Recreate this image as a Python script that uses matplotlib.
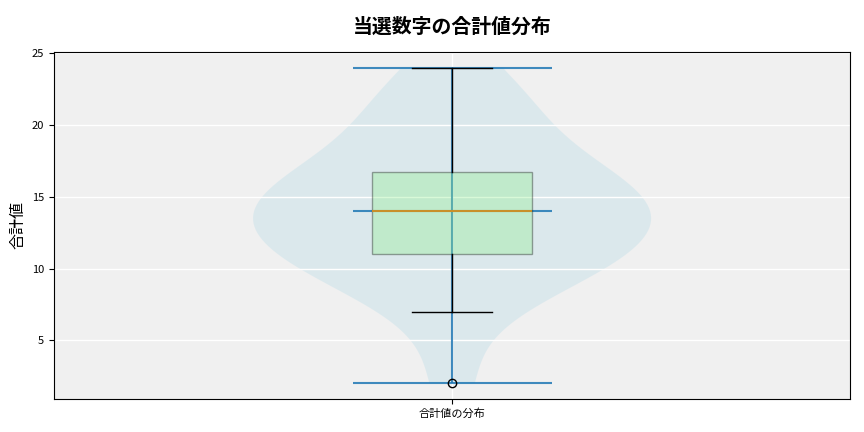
import matplotlib
matplotlib.use("Agg")
import matplotlib.pyplot as plt
import numpy as np

plt.rcParams['font.family'] = ['Noto Sans CJK JP', 'DejaVu Sans']

sums = [2, 7, 9, 10, 10, 11, 11, 12, 13, 13, 14, 14,
        15, 15, 16, 16, 17, 18, 20, 21, 22, 24]
category_label = "合計値の分布"
title = "当選数字の合計値分布"
ylabel = "合計値"

fig = plt.figure(figsize=(8.64, 4.32), dpi=100)
ax = fig.add_axes([0.0625, 0.0764, 0.9215, 0.8033])
ax.set_facecolor('#f0f0f0')
ax.grid(True, color='white', linewidth=1.0)

data = np.array(sums, dtype=float)

vp = ax.violinplot([data], positions=[1], showmeans=False, showmedians=True,
                   showextrema=True)
for body in vp['bodies']:
    body.set_facecolor('lightblue')
    body.set_edgecolor('none')
    body.set_alpha(0.3)
for key in ('cbars', 'cmins', 'cmaxes', 'cmedians'):
    vp[key].set_alpha(0.85)

bp = ax.boxplot([data], positions=[1], widths=0.2, patch_artist=True,
                boxprops=dict(facecolor='lightgreen', alpha=0.35),
                medianprops=dict(color='#c8902a', linewidth=1.5))

ax.set_xticks([1])
ax.set_xticklabels([category_label], fontsize=8)
ax.tick_params(axis='y', labelsize=8)
ax.set_xlim(0.5, 1.5)
ax.set_ylabel(ylabel, fontsize=11.5)
ax.set_title(title, fontsize=14.3, fontweight='bold', pad=14)

fig.savefig("out.png", dpi=100)
